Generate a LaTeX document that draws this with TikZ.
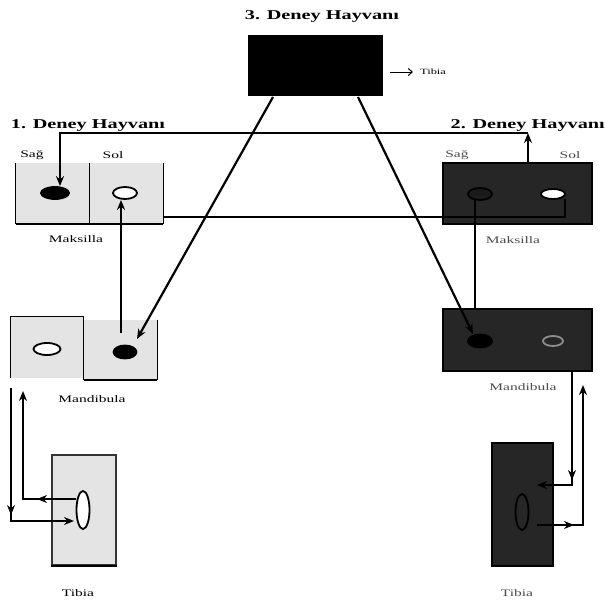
\documentclass[tikz,border=0pt]{standalone}
\usepackage{fontspec}
\setmainfont{Liberation Serif}
\usetikzlibrary{arrows.meta,shapes.geometric}
\definecolor{boxgray}{HTML}{E4E4E4}
\definecolor{darkbox}{HTML}{262626}
\newcommand\stretchtxt[2][1.55]{\scalebox{#1}[1]{#2}}
\begin{document}
\begin{tikzpicture}[x=1pt,y=-1pt,
  ln/.style={line width=2.2pt, line join=miter},
  arr/.style={ln, -{Stealth[length=10pt,width=8pt]}},
  lightbox/.style={rectangle, fill=boxgray, draw=none, inner sep=0pt},
  darkrect/.style={rectangle, fill=darkbox, draw=black, line width=1.2pt, inner sep=0pt},
  oval/.style={ellipse, inner sep=0pt, line width=1.8pt},
  title/.style={font=\fontsize{13.5}{14}\bfseries, inner sep=0pt},
  lab/.style={font=\fontsize{10}{11}\selectfont, inner sep=0pt},
  rlab/.style={lab, text=black!70}]
\useasboundingbox (0,0) rectangle (606,605);
\fill[white] (0,0) rectangle (606,605);

% ---- 3. animal
\node[title] (t3) at (322,16) {\stretchtxt[1.5]{3. Deney Hayvanı}};
\node[rectangle, fill=black, inner sep=0pt, minimum width=135pt, minimum height=61pt] (B) at (315.5,65.5) {};
\coordinate (ta) at (390,72);
\coordinate (tb) at (413,72);
\draw[line width=1pt, -{Straight Barb[length=4pt,width=7pt]}] (ta) -- (tb);
\node[lab, font=\fontsize{8}{9}\selectfont, anchor=west] (tt) at (420,72) {\stretchtxt{Tibia}};

% ---- 1. animal
\node[title] (t1) at (88,125) {\stretchtxt[1.5]{1. Deney Hayvanı}};
\node[lab] (sag1) at (32,155) {\stretchtxt{Sağ}};
\node[lab] (sol1) at (113,155) {\stretchtxt{Sol}};
\node[lightbox, minimum width=73pt, minimum height=61pt] (L1) at (52.5,193.5) {};
\node[lightbox, minimum width=74pt, minimum height=61pt] (L2) at (126,193.5) {};
\draw[line width=1.2pt] (L1.north west) -- (L1.south west);
\draw[line width=1.2pt] (L1.north east) -- (L1.south east);
\draw[line width=1.2pt] (L2.north east) -- (L2.south east);
\draw[line width=2pt] (L1.south west) -- (L2.south east);
\node[lab] (mk1) at (76,239) {\stretchtxt{Maksilla}};

\node[lightbox, minimum width=72pt, minimum height=61pt] (M1) at (47,347.5) {};
\node[lightbox, minimum width=73pt, minimum height=60pt] (M2) at (120.5,350) {};
\draw[line width=1.2pt] (M1.south west) -- (M1.north west) -- (M1.north east) -- (M1.south east);
\draw[line width=1.2pt] (M2.north west) -- (M2.south west);
\draw[line width=1.2pt] (M2.north east) -- (M2.south east);
\draw[line width=2pt] (M2.south west) -- (M2.south east);
\node[lab] (md1) at (92,399) {\stretchtxt{Mandibula}};

\node[lightbox, draw=black!80, line width=1.2pt, minimum width=64pt, minimum height=110pt] (T1) at (84,510) {};
\draw[line width=2pt] (T1.south west) -- (T1.south east);
\node[lab] (tb1) at (78,593) {\stretchtxt{Tibia}};

% ---- 2. animal
\node[title, anchor=east] (t2) at (605,125) {\stretchtxt[1.5]{2. Deney Hayvanı}};
\node[rlab] (sag2) at (457,155) {\stretchtxt{Sağ}};
\node[rlab] (sol2) at (570,155) {\stretchtxt{Sol}};
\node[darkrect, minimum width=149pt, minimum height=61pt] (R1) at (517.5,193.5) {};
\node[rlab] (mk2) at (513,240) {\stretchtxt{Maksilla}};
\node[darkrect, minimum width=149pt, minimum height=62pt] (RM) at (517.5,340) {};
\node[rlab] (md2) at (523,387) {\stretchtxt{Mandibula}};
\node[darkrect, minimum width=61pt, minimum height=123pt] (RT) at (522.5,504.5) {};
\node[rlab] (tb2) at (517,593) {\stretchtxt{Tibia}};

% ---- ovals
\node[oval, fill=black, draw=black, minimum width=28pt, minimum height=12pt] (o1) at (55,193) {};
\node[oval, fill=white, draw=black, minimum width=24pt, minimum height=12pt] (o2) at (125,193) {};
\node[oval, fill=white, draw=black, minimum width=27pt, minimum height=12pt] (o3) at (47,349) {};
\node[oval, fill=black, draw=black, minimum width=23pt, minimum height=13pt] (o4) at (125,352) {};
\node[oval, fill=white, draw=black, minimum width=13pt, minimum height=38pt] (o5) at (83,510) {};
\node[oval, fill=darkbox!70!black, draw=black, minimum width=24pt, minimum height=12pt] (o6) at (480,194) {};
\node[oval, fill=white, draw=black, minimum width=24pt, minimum height=10pt] (o7) at (553,194) {};
\node[oval, fill=black, draw=black, minimum width=24pt, minimum height=13pt] (o8) at (480,341) {};
\node[oval, fill=darkbox, draw=black!45, minimum width=20pt, minimum height=10pt] (o9) at (553,341) {};
\node[oval, fill=darkbox, draw=black, minimum width=13pt, minimum height=36pt] (o10) at (522,512) {};

% ---- connectors
\coordinate (c1) at (528,163);
\coordinate (c2) at (528,133);
\coordinate (c3) at (60,133);
\draw[arr] (c1) -- (c2);
\draw[arr] (c2) -- (c3) -- (o1.north -| c3);

\coordinate (c4) at (121,333);
\draw[arr] (c4) -- (o2.south -| c4);

\coordinate (c5) at (163,217);
\coordinate (c6) at (565,217);
\coordinate (c7) at (565,199);
\draw[ln] (c5) -- (c6) -- (c7);

\coordinate (c8) at (475,200);
\coordinate (c9) at (475,309);
\draw[ln] (c8) -- (c9);

\coordinate (d1) at (273,97);
\coordinate (d2) at (137,339);
\draw[arr] (d1) -- (d2);
\coordinate (d3) at (358,97);
\coordinate (d4) at (473,334);
\draw[arr] (d3) -- (d4);

% left tibia links
\coordinate (e1) at (76,499);
\coordinate (e2) at (23,499);
\coordinate (e3) at (23,391);
\coordinate (e4) at (37,499);
\draw[arr] (e1) -- (e2) -- (e3);
\draw[arr] (e1) -- (e4);
\coordinate (f1) at (11,388);
\coordinate (f2) at (11,521);
\coordinate (f3) at (74,521);
\coordinate (f4) at (11,515);
\draw[arr] (f1) -- (f2) -- (f3);
\draw[arr] (f1) -- (f4);

% right tibia links
\coordinate (g1) at (572,371);
\coordinate (g2) at (572,485);
\coordinate (g3) at (537,485);
\coordinate (g4) at (572,480);
\draw[arr] (g1) -- (g2) -- (g3);
\draw[arr] (g1) -- (g4);
\coordinate (h1) at (537,525);
\coordinate (h2) at (583,525);
\coordinate (h3) at (583,385);
\coordinate (h4) at (574,525);
\draw[arr] (h1) -- (h2) -- (h3);
\draw[arr] (h1) -- (h4);
\end{tikzpicture}
\end{document}
